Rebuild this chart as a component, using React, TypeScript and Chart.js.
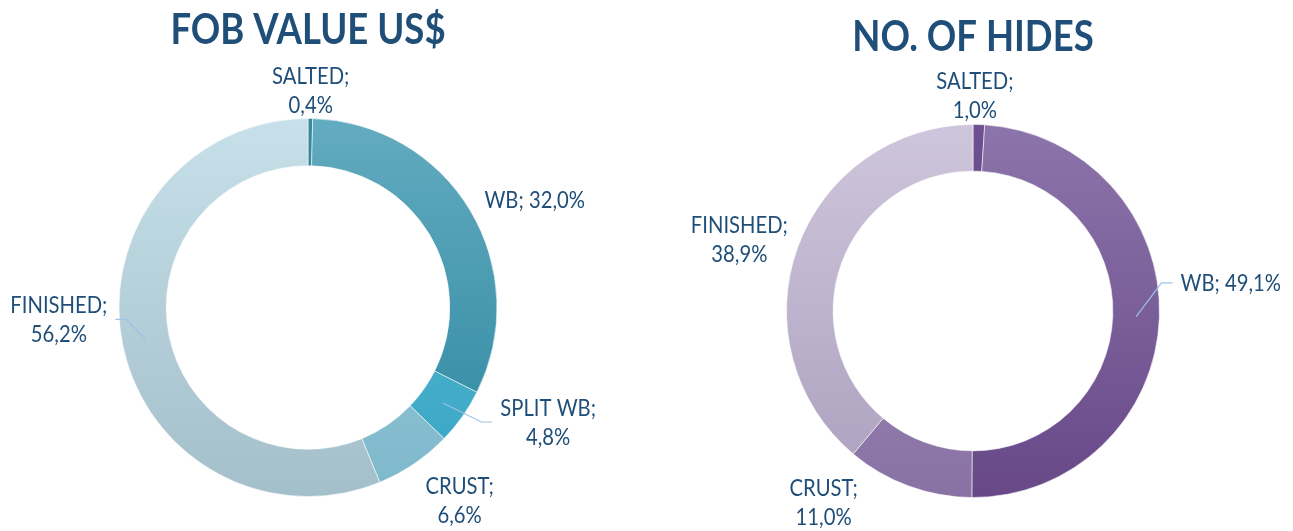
import { useEffect, useRef } from "react";
import { Chart, registerables } from "chart.js";

Chart.register(...registerables);

// ---------- data ----------
const fobTitle = "FOB VALUE US$";
const fobCategories = ["SALTED", "WB", "SPLIT WB", "CRUST", "FINISHED"];
const fobValues = [0.4, 32.0, 4.8, 6.6, 56.2];

const hidesTitle = "NO. OF HIDES";
const hidesCategories = ["SALTED", "WB", "CRUST", "FINISHED"];
const hidesValues = [1.0, 49.1, 11.0, 38.9];

// ---------- styles ----------
const fobColorsTop = ["#3a8a9c", "#63abc0", "#5cbad4", "#a6d1df", "#c7e0e9"];
const fobColorsBottom = ["#2b7385", "#2c879f", "#38a6c4", "#7db8cb", "#a3bfca"];
const hidesColorsTop = ["#6e5190", "#8c75aa", "#a592bd", "#cec6dc"];
const hidesColorsBottom = ["#583a77", "#684888", "#8872a4", "#aca0be"];

const TEXT_COLOR = "#1f4e79";
const LEADER_COLOR = "#9dc3e6";

type Place = { shift: number; dist: number; oneLine?: boolean; leader?: boolean };

const fobPlacement: Place[] = [
  { shift: 0, dist: 1.145 },
  { shift: 5.8, dist: 1.325, oneLine: true },
  { shift: -9.6, dist: 1.41, leader: true },
  { shift: -3.9, dist: 1.3 },
  { shift: 8.2, dist: 1.32, leader: true },
];
const hidesPlacement: Place[] = [
  { shift: -1.3, dist: 1.155 },
  { shift: -8, dist: 1.39, oneLine: true, leader: true },
  { shift: 17.7, dist: 1.305 },
  { shift: -3, dist: 1.31 },
];

const fmt = (v: number) => v.toFixed(1).replace(".", ",") + "%";

function makeLabelPlugin(title: string, titleY: number, titleScale: number, placement: Place[]) {
  return {
    id: "donutLabels",
    afterDraw(chart: any) {
      const ctx = chart.ctx as CanvasRenderingContext2D;
      const meta = chart.getDatasetMeta(0);
      const labels = chart.data.labels as string[];
      const values = chart.data.datasets[0].data as number[];
      const first = meta.data[0];
      if (!first) return;
      const cx = first.x;
      // title
      ctx.save();
      ctx.fillStyle = TEXT_COLOR;
      ctx.font = "bold 42px Lato, 'Open Sans', sans-serif";
      ctx.textAlign = "center";
      ctx.textBaseline = "middle";
      ctx.translate(cx, titleY);
      ctx.scale(titleScale, 1);
      ctx.fillText(title, 0, 0);
      ctx.restore();

      const sx = 0.88;
      const lineH = 29;
      meta.data.forEach((arc: any, i: number) => {
        const p = arc.getProps(["x", "y", "startAngle", "endAngle", "outerRadius", "innerRadius"], true);
        const pl = placement[i];
        const mid = (p.startAngle + p.endAngle) / 2;
        const a = mid + (pl.shift * Math.PI) / 180;
        const lx = p.x + Math.cos(a) * pl.dist * p.outerRadius;
        const ly = p.y + Math.sin(a) * pl.dist * p.outerRadius;
        const lines = pl.oneLine
          ? [`${labels[i]}; ${fmt(values[i])}`]
          : [`${labels[i]};`, fmt(values[i])];
        ctx.save();
        ctx.font = "23px Lato, 'Open Sans', sans-serif";
        ctx.fillStyle = TEXT_COLOR;
        ctx.textAlign = "center";
        ctx.textBaseline = "middle";
        let maxW = 0;
        lines.forEach((t, k) => {
          const w = ctx.measureText(t).width * sx;
          maxW = Math.max(maxW, w);
          const ty = ly + (k - (lines.length - 1) / 2) * lineH;
          ctx.save();
          ctx.translate(lx, ty);
          ctx.scale(sx, 1);
          ctx.fillText(t, 0, 0);
          ctx.restore();
        });
        if (pl.leader) {
          const rMid = (p.innerRadius + p.outerRadius) / 2;
          const sxp = p.x + Math.cos(mid) * rMid;
          const syp = p.y + Math.sin(mid) * rMid;
          const rightSide = lx > p.x;
          const edge = rightSide ? lx - maxW / 2 : lx + maxW / 2;
          const dir = rightSide ? -1 : 1;
          const yL = ly - 1;
          ctx.strokeStyle = LEADER_COLOR;
          ctx.lineWidth = 1.2;
          ctx.beginPath();
          ctx.moveTo(sxp, syp);
          ctx.lineTo(edge + dir * 19, yL);
          ctx.lineTo(edge + dir * 8, yL);
          ctx.stroke();
        }
        ctx.restore();
      });
    },
  };
}

function gradientColor(tops: string[], bottoms: string[]) {
  return (c: any) => {
    const chart = c.chart;
    const area = chart.chartArea;
    const i = c.dataIndex ?? 0;
    if (!area) return tops[i];
    const g = chart.ctx.createLinearGradient(0, area.top, 0, area.bottom);
    g.addColorStop(0, tops[i]);
    g.addColorStop(1, bottoms[i]);
    return g;
  };
}

function Donut(props: {
  left: number;
  width: number;
  categories: string[];
  values: number[];
  tops: string[];
  bottoms: string[];
  padding: { top: number; bottom: number; left: number; right: number };
  title: string;
  titleY: number;
  titleScale: number;
  placement: Place[];
}) {
  const ref = useRef<HTMLCanvasElement>(null);
  useEffect(() => {
    if (!ref.current) return;
    const chart = new Chart(ref.current, {
      type: "doughnut",
      data: {
        labels: props.categories,
        datasets: [
          {
            data: props.values,
            backgroundColor: gradientColor(props.tops, props.bottoms) as any,
            borderColor: "rgba(255,255,255,0.55)",
            borderWidth: 1,
          },
        ],
      },
      options: {
        animation: false,
        responsive: false,
        cutout: "75%",
        layout: { padding: props.padding },
        plugins: { legend: { display: false }, tooltip: { enabled: false }, title: { display: false } },
      },
      plugins: [makeLabelPlugin(props.title, props.titleY, props.titleScale, props.placement)],
    });
    return () => chart.destroy();
  }, []);
  return (
    <canvas
      ref={ref}
      width={props.width}
      height={531}
      style={{ position: "absolute", left: props.left, top: 0, width: props.width, height: 531 }}
    />
  );
}

export default function App() {
  useEffect(() => {
    document.body.style.margin = "0";
  }, []);
  return (
    <div style={{ position: "relative", width: 1293, height: 531, background: "#ffffff" }}>
      <Donut
        left={0}
        width={646}
        categories={fobCategories}
        values={fobValues}
        tops={fobColorsTop}
        bottoms={fobColorsBottom}
        padding={{ top: 118, bottom: 34, left: 58, right: 88 }}
        title={fobTitle}
        titleY={30}
        titleScale={0.87}
        placement={fobPlacement}
      />
      <Donut
        left={646}
        width={647}
        categories={hidesCategories}
        values={hidesValues}
        tops={hidesColorsTop}
        bottoms={hidesColorsBottom}
        padding={{ top: 124, bottom: 33, left: 77, right: 70 }}
        title={hidesTitle}
        titleY={37}
        titleScale={0.87}
        placement={hidesPlacement}
      />
    </div>
  );
}
